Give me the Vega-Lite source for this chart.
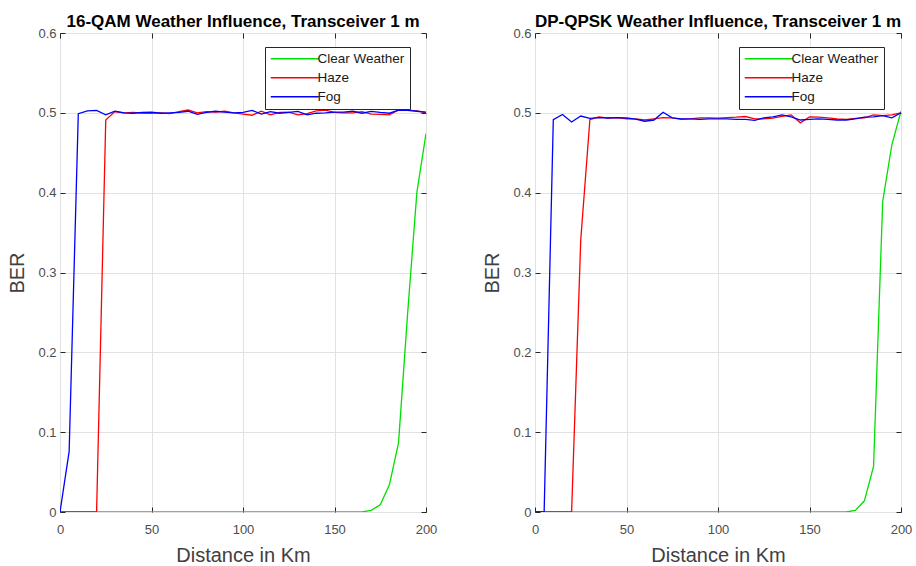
{
  "$schema": "https://vega.github.io/schema/vega-lite/v6.json",
  "padding": {"left": 7, "top": 12, "right": 5, "bottom": 2},
  "background": "white",
  "datasets": {
    "qam": [
      {"km": 0, "Clear Weather": 0, "Haze": 0, "Fog": 0},
      {"km": 5, "Clear Weather": 0, "Haze": 0, "Fog": 0.076},
      {"km": 10, "Clear Weather": 0, "Haze": 0, "Fog": 0.499},
      {"km": 15, "Clear Weather": 0, "Haze": 0, "Fog": 0.5025},
      {"km": 20, "Clear Weather": 0, "Haze": 0, "Fog": 0.503},
      {"km": 25, "Clear Weather": 0, "Haze": 0.491, "Fog": 0.4975},
      {"km": 30, "Clear Weather": 0, "Haze": 0.5015, "Fog": 0.502},
      {"km": 35, "Clear Weather": 0, "Haze": 0.5, "Fog": 0.5},
      {"km": 40, "Clear Weather": 0, "Haze": 0.5005, "Fog": 0.4995},
      {"km": 45, "Clear Weather": 0, "Haze": 0.4995, "Fog": 0.5005},
      {"km": 50, "Clear Weather": 0, "Haze": 0.4995, "Fog": 0.501},
      {"km": 55, "Clear Weather": 0, "Haze": 0.5, "Fog": 0.4995},
      {"km": 60, "Clear Weather": 0, "Haze": 0.499, "Fog": 0.5},
      {"km": 65, "Clear Weather": 0, "Haze": 0.5015, "Fog": 0.5005},
      {"km": 70, "Clear Weather": 0, "Haze": 0.5035, "Fog": 0.502},
      {"km": 75, "Clear Weather": 0, "Haze": 0.5, "Fog": 0.498},
      {"km": 80, "Clear Weather": 0, "Haze": 0.5015, "Fog": 0.5005},
      {"km": 85, "Clear Weather": 0, "Haze": 0.501, "Fog": 0.502},
      {"km": 90, "Clear Weather": 0, "Haze": 0.502, "Fog": 0.501},
      {"km": 95, "Clear Weather": 0, "Haze": 0.5, "Fog": 0.5},
      {"km": 100, "Clear Weather": 0, "Haze": 0.4985, "Fog": 0.5005},
      {"km": 105, "Clear Weather": 0, "Haze": 0.497, "Fog": 0.503},
      {"km": 110, "Clear Weather": 0, "Haze": 0.502, "Fog": 0.4985},
      {"km": 115, "Clear Weather": 0, "Haze": 0.4975, "Fog": 0.5015},
      {"km": 120, "Clear Weather": 0, "Haze": 0.5005, "Fog": 0.4995},
      {"km": 125, "Clear Weather": 0, "Haze": 0.501, "Fog": 0.5005},
      {"km": 130, "Clear Weather": 0, "Haze": 0.4975, "Fog": 0.5018},
      {"km": 135, "Clear Weather": 0, "Haze": 0.499, "Fog": 0.4975},
      {"km": 140, "Clear Weather": 0, "Haze": 0.5025, "Fog": 0.4995},
      {"km": 145, "Clear Weather": 0, "Haze": 0.5035, "Fog": 0.5},
      {"km": 150, "Clear Weather": 0, "Haze": 0.5005, "Fog": 0.5008},
      {"km": 155, "Clear Weather": 0, "Haze": 0.5, "Fog": 0.501},
      {"km": 160, "Clear Weather": 0, "Haze": 0.5, "Fog": 0.502},
      {"km": 165, "Clear Weather": 0, "Haze": 0.5015, "Fog": 0.4995},
      {"km": 170, "Clear Weather": 0.002, "Haze": 0.4985, "Fog": 0.5018},
      {"km": 175, "Clear Weather": 0.009, "Haze": 0.498, "Fog": 0.5005},
      {"km": 180, "Clear Weather": 0.034, "Haze": 0.4975, "Fog": 0.4995},
      {"km": 185, "Clear Weather": 0.087, "Haze": 0.5035, "Fog": 0.5035},
      {"km": 190, "Clear Weather": 0.25, "Haze": 0.5035, "Fog": 0.503},
      {"km": 195, "Clear Weather": 0.4, "Haze": 0.5025, "Fog": 0.502},
      {"km": 200, "Clear Weather": 0.474, "Haze": 0.5, "Fog": 0.5008}
    ],
    "qpsk": [
      {"km": 0, "Clear Weather": 0, "Haze": 0, "Fog": 0},
      {"km": 5, "Clear Weather": 0, "Haze": 0, "Fog": 0},
      {"km": 10, "Clear Weather": 0, "Haze": 0, "Fog": 0.4915},
      {"km": 15, "Clear Weather": 0, "Haze": 0, "Fog": 0.498},
      {"km": 20, "Clear Weather": 0, "Haze": 0, "Fog": 0.4885},
      {"km": 25, "Clear Weather": 0, "Haze": 0.341, "Fog": 0.496},
      {"km": 30, "Clear Weather": 0, "Haze": 0.4916, "Fog": 0.493},
      {"km": 35, "Clear Weather": 0, "Haze": 0.495, "Fog": 0.494},
      {"km": 40, "Clear Weather": 0, "Haze": 0.4935, "Fog": 0.4935},
      {"km": 45, "Clear Weather": 0, "Haze": 0.494, "Fog": 0.494},
      {"km": 50, "Clear Weather": 0, "Haze": 0.4925, "Fog": 0.4935},
      {"km": 55, "Clear Weather": 0, "Haze": 0.4925, "Fog": 0.492},
      {"km": 60, "Clear Weather": 0, "Haze": 0.491, "Fog": 0.4895},
      {"km": 65, "Clear Weather": 0, "Haze": 0.4925, "Fog": 0.491},
      {"km": 70, "Clear Weather": 0, "Haze": 0.494, "Fog": 0.5007},
      {"km": 75, "Clear Weather": 0, "Haze": 0.4937, "Fog": 0.4937},
      {"km": 80, "Clear Weather": 0, "Haze": 0.4917, "Fog": 0.4925},
      {"km": 85, "Clear Weather": 0, "Haze": 0.4925, "Fog": 0.4925},
      {"km": 90, "Clear Weather": 0, "Haze": 0.4937, "Fog": 0.4917},
      {"km": 95, "Clear Weather": 0, "Haze": 0.4937, "Fog": 0.4925},
      {"km": 100, "Clear Weather": 0, "Haze": 0.4933, "Fog": 0.4925},
      {"km": 105, "Clear Weather": 0, "Haze": 0.494, "Fog": 0.4925},
      {"km": 110, "Clear Weather": 0, "Haze": 0.4945, "Fog": 0.4917},
      {"km": 115, "Clear Weather": 0, "Haze": 0.4954, "Fog": 0.4917},
      {"km": 120, "Clear Weather": 0, "Haze": 0.4925, "Fog": 0.4905},
      {"km": 125, "Clear Weather": 0, "Haze": 0.4925, "Fog": 0.4937},
      {"km": 130, "Clear Weather": 0, "Haze": 0.4933, "Fog": 0.495},
      {"km": 135, "Clear Weather": 0, "Haze": 0.4955, "Fog": 0.4975},
      {"km": 140, "Clear Weather": 0, "Haze": 0.4975, "Fog": 0.495},
      {"km": 145, "Clear Weather": 0, "Haze": 0.4875, "Fog": 0.491},
      {"km": 150, "Clear Weather": 0, "Haze": 0.495, "Fog": 0.4917},
      {"km": 155, "Clear Weather": 0, "Haze": 0.4945, "Fog": 0.4925},
      {"km": 160, "Clear Weather": 0, "Haze": 0.4937, "Fog": 0.4917},
      {"km": 165, "Clear Weather": 0, "Haze": 0.4925, "Fog": 0.491},
      {"km": 170, "Clear Weather": 0, "Haze": 0.4917, "Fog": 0.491},
      {"km": 175, "Clear Weather": 0.002, "Haze": 0.493, "Fog": 0.4925},
      {"km": 180, "Clear Weather": 0.014, "Haze": 0.4937, "Fog": 0.4945},
      {"km": 185, "Clear Weather": 0.057, "Haze": 0.4975, "Fog": 0.495},
      {"km": 190, "Clear Weather": 0.389, "Haze": 0.4966, "Fog": 0.4966},
      {"km": 195, "Clear Weather": 0.46, "Haze": 0.4975, "Fog": 0.4937},
      {"km": 200, "Clear Weather": 0.502, "Haze": 0.5, "Fog": 0.5}
    ]
  },
  "spacing": 44,
  "resolve": {"legend": {"color": "independent"}},
  "hconcat": [
    {
      "title": {"text": "16-QAM Weather Influence, Transceiver 1 m", "anchor": "middle"},
      "width": 366,
      "height": 479,
      "data": {"name": "qam"},
      "transform": [{"fold": ["Clear Weather", "Haze", "Fog"], "as": ["weather", "ber"]}],
      "layer": [
        {
          "mark": {"type": "line", "strokeWidth": 1.3, "clip": true},
          "encoding": {
            "x": {"field": "km", "type": "quantitative", "title": "Distance in Km",
                  "scale": {"domain": [0, 200], "nice": false},
                  "axis": {"values": [0, 50, 100, 150, 200]}},
            "y": {"field": "ber", "type": "quantitative", "title": "BER",
                  "scale": {"domain": [0, 0.6], "nice": false},
                  "axis": {"values": [0, 0.1, 0.2, 0.3, 0.4, 0.5, 0.6], "format": ".1~f"}},
            "color": {"field": "weather", "type": "nominal",
                      "scale": {"domain": ["Clear Weather", "Haze", "Fog"], "range": ["#00e000", "#ff0000", "#0000ff"]},
                      "legend": {"title": null, "orient": "none", "legendX": 205, "legendY": 14,
                                 "labelExpr": "datum.label + '\u00a0\u00a0'"}}
          }
        },
        {
          "mark": {"type": "line", "opacity": 0},
          "encoding": {
            "x": {"field": "km", "type": "quantitative", "title": null,
                  "axis": {"orient": "top", "values": [0, 50, 100, 150, 200], "labels": false, "grid": false}},
            "y": {"field": "ber", "type": "quantitative", "title": null,
                  "axis": {"orient": "right", "values": [0, 0.1, 0.2, 0.3, 0.4, 0.5, 0.6], "labels": false, "grid": false}}
          }
        }
      ],
      "resolve": {"axis": {"x": "independent", "y": "independent"}}
    },
    {
      "title": {"text": "DP-QPSK Weather Influence, Transceiver 1 m", "anchor": "middle"},
      "width": 366,
      "height": 479,
      "data": {"name": "qpsk"},
      "transform": [{"fold": ["Clear Weather", "Haze", "Fog"], "as": ["weather", "ber"]}],
      "layer": [
        {
          "mark": {"type": "line", "strokeWidth": 1.3, "clip": true},
          "encoding": {
            "x": {"field": "km", "type": "quantitative", "title": "Distance in Km",
                  "scale": {"domain": [0, 200], "nice": false},
                  "axis": {"values": [0, 50, 100, 150, 200]}},
            "y": {"field": "ber", "type": "quantitative", "title": "BER",
                  "scale": {"domain": [0, 0.6], "nice": false},
                  "axis": {"values": [0, 0.1, 0.2, 0.3, 0.4, 0.5, 0.6], "format": ".1~f"}},
            "color": {"field": "weather", "type": "nominal",
                      "scale": {"domain": ["Clear Weather", "Haze", "Fog"], "range": ["#00e000", "#ff0000", "#0000ff"]},
                      "legend": {"title": null, "orient": "none", "legendX": 204, "legendY": 14,
                                 "labelExpr": "datum.label + '\u00a0\u00a0'"}}
          }
        },
        {
          "mark": {"type": "line", "opacity": 0},
          "encoding": {
            "x": {"field": "km", "type": "quantitative", "title": null,
                  "axis": {"orient": "top", "values": [0, 50, 100, 150, 200], "labels": false, "grid": false}},
            "y": {"field": "ber", "type": "quantitative", "title": null,
                  "axis": {"orient": "right", "values": [0, 0.1, 0.2, 0.3, 0.4, 0.5, 0.6], "labels": false, "grid": false}}
          }
        }
      ],
      "resolve": {"axis": {"x": "independent", "y": "independent"}}
    }
  ],
  "config": {
    "font": "Liberation Sans",
    "view": {"stroke": "#262626", "strokeWidth": 1},
    "axis": {
      "domain": false,
      "grid": true,
      "gridColor": "#e2e2e2",
      "gridWidth": 1,
      "tickColor": "#262626",
      "tickSize": -5,
      "labelPadding": 9,
      "labelFlush": false,
      "labelFontSize": 13,
      "labelColor": "#4d4d4d",
      "titleFontSize": 20,
      "titleFontWeight": "normal",
      "titleColor": "#404040"
    },
    "axisX": {"labelPadding": 16, "titlePadding": 9},
    "axisY": {"titlePadding": 10},
    "title": {"fontSize": 17, "fontWeight": "bold", "color": "#000000", "offset": -4},
    "legend": {
      "fillColor": "white",
      "strokeColor": "#262626",
      "padding": 5,
      "labelFontSize": 13.5,
      "labelColor": "#1a1a1a",
      "symbolType": "M-8,0H8",
      "symbolSize": 36,
      "symbolStrokeWidth": 1.5,
      "symbolOffset": 18,
      "labelOffset": 16,
      "rowPadding": 4
    }
  }
}
